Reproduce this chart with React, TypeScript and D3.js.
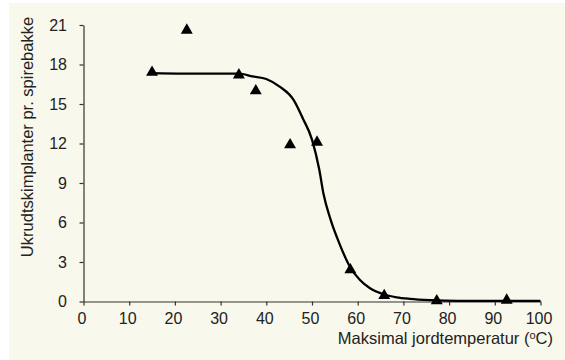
import React, { useEffect, useRef } from 'react';
import * as d3 from 'd3';

// observed seedlings (triangles)
const obsTemp = [15, 22.6, 34, 37.7, 45.2, 51.1, 58.4, 65.8, 77.3, 92.6];
const obsCount = [17.4, 20.6, 17.2, 16.0, 11.9, 12.1, 2.4, 0.45, 0.05, 0.1];

// fitted curve
const fitTemp = [15, 27, 34, 37, 40, 43, 46, 48, 50, 51.6, 52.5, 54, 56, 58.3, 60.5, 62.7, 65.6, 68.5, 71.4, 76, 82, 100];
const fitCount = [17.35, 17.3, 17.3, 17.1, 16.9, 16.3, 15.3, 13.9, 12.3, 10.0, 8.2, 6.3, 4.4, 2.64, 1.63, 1.0, 0.55, 0.32, 0.2, 0.1, 0.05, 0.05];

const xTicks = [0, 10, 20, 30, 40, 50, 60, 70, 80, 90, 100];
const yTicks = [0, 3, 6, 9, 12, 15, 18, 21];

const yTitle = 'Ukrudtskimplanter pr. spirebakke';

const App: React.FC = () => {
    const chartRef = useRef<SVGSVGElement | null>(null);

    useEffect(() => {
        if (!chartRef.current) return;
        const width = 565;
        const height = 360;
        const font = 'Arial, "Liberation Sans", sans-serif';
        const textColor = '#222';

        d3.select(chartRef.current).selectAll('*').remove();
        const svg = d3.select(chartRef.current)
            .attr('width', width)
            .attr('height', height);

        svg.append('rect').attr('width', width).attr('height', height).attr('fill', '#fff');
        svg.append('rect')
            .attr('x', 9).attr('y', 3)
            .attr('width', width - 9).attr('height', height - 3)
            .attr('fill', '#f8f8ec');

        const x = d3.scaleLinear().domain([0, 100]).range([83.5, 540.5]);
        const y = d3.scaleLinear().domain([0, 21]).range([301.5, 25]);

        // Y axis
        const yAxis = svg.append('g')
            .attr('transform', `translate(${x(0)},0)`)
            .call(d3.axisLeft(y).tickValues(yTicks).tickSize(4).tickSizeOuter(0).tickPadding(12.5));
        // X axis
        const xAxis = svg.append('g')
            .attr('transform', `translate(0,${y(0)})`)
            .call(d3.axisBottom(x).tickValues(xTicks).tickSize(4).tickSizeOuter(0).tickPadding(7.5));

        [xAxis, yAxis].forEach(g => {
            g.select('.domain').attr('stroke', '#333').attr('stroke-width', 1.2);
            g.selectAll('.tick line').attr('stroke', '#333').attr('stroke-width', 1.2);
            g.selectAll('.tick text')
                .attr('fill', textColor)
                .style('font-family', font)
                .style('font-size', '16px');
        });
        xAxis.selectAll('.tick text').attr('dx', -2);

        // fitted line
        const line = d3.line<number>()
            .x((_, i) => x(fitTemp[i]))
            .y(d => y(d))
            .curve(d3.curveMonotoneX);
        svg.append('path')
            .datum(fitCount)
            .attr('d', line)
            .attr('fill', 'none')
            .attr('stroke', '#000')
            .attr('stroke-width', 2.3);

        // triangles
        const tri = d3.symbol().type(d3.symbolTriangle).size(62);
        svg.selectAll('path.pt')
            .data(obsCount)
            .enter()
            .append('path')
            .attr('class', 'pt')
            .attr('d', tri)
            .attr('transform', (d, i) => `translate(${x(obsTemp[i])},${y(d)})`)
            .attr('fill', '#000');

        // axis titles
        const xt = svg.append('text')
            .attr('x', 553)
            .attr('y', 344)
            .attr('text-anchor', 'end')
            .attr('fill', textColor)
            .style('font-family', font)
            .style('font-size', '16.5px');
        xt.append('tspan').text('Maksimal jordtemperatur (');
        xt.append('tspan').attr('dy', -5).style('font-size', '11px').text('o');
        xt.append('tspan').attr('dy', 5).text('C)');

        svg.append('text')
            .attr('transform', `translate(33,137) rotate(-90)`)
            .attr('text-anchor', 'middle')
            .attr('fill', textColor)
            .style('font-family', font)
            .style('font-size', '16.5px')
            .text(yTitle);
    }, []);

    return (
        <div style={{ position: 'absolute', left: 0, top: 0 }}>
            <svg ref={chartRef} style={{ display: 'block' }} />
        </div>
    );
};

export default App;
